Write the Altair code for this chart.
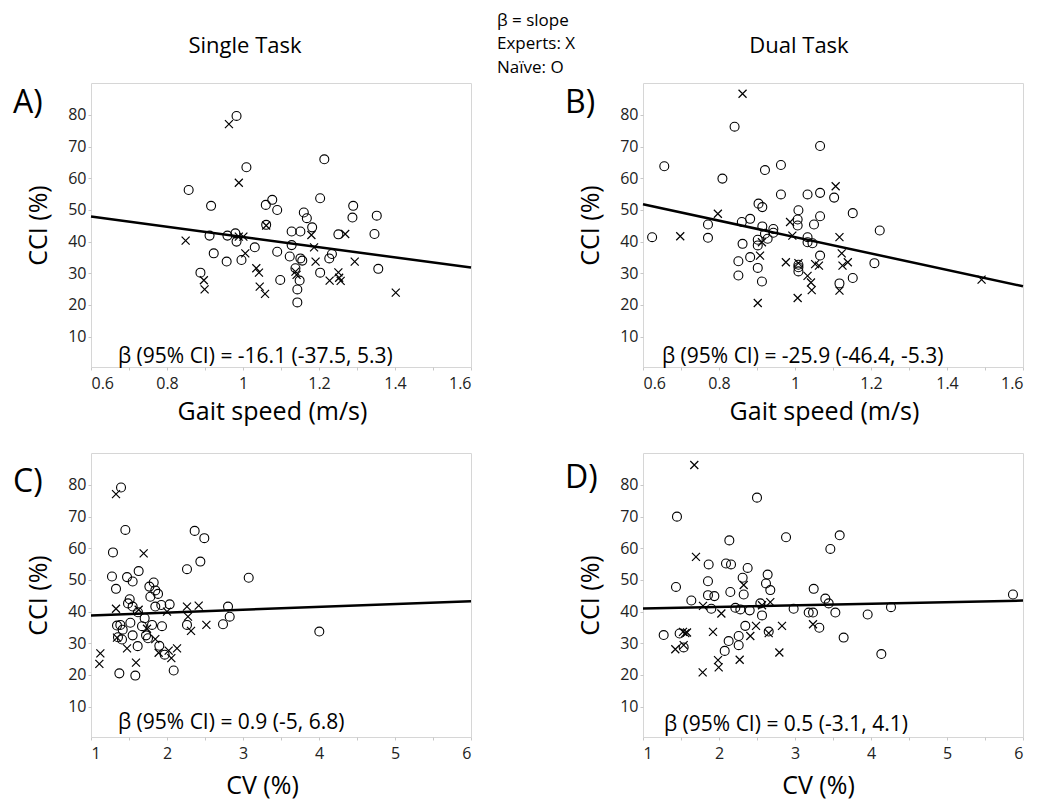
import altair as alt
import pandas as pd

FONT = "Open Sans"
CROSS = "M-1,-1L1,1M1,-1L-1,1"

# ---------------- Panel A: Single task, gait speed ----------------
a_naive_x = [0.857, 0.983, 1.009, 0.916, 0.912, 0.923, 0.888, 0.957, 0.959, 0.980, 0.983, 0.996, 1.031,
             1.060, 1.077, 1.090, 1.061, 1.090, 1.098, 1.123, 1.128, 1.128, 1.138, 1.151, 1.151, 1.156,
             1.149, 1.143, 1.143, 1.160, 1.168, 1.182, 1.203, 1.203, 1.214, 1.227, 1.234, 1.251, 1.290,
             1.288, 1.346, 1.352, 1.356]
a_naive_y = [56.3, 79.7, 63.5, 51.3, 41.9, 36.3, 30.2, 33.7, 41.9, 42.6, 40.0, 34.2, 38.2,
             51.6, 53.2, 50.0, 45.3, 36.8, 27.9, 35.3, 43.2, 38.9, 31.6, 43.2, 34.7, 34.0,
             27.7, 24.9, 20.8, 49.2, 47.4, 44.5, 30.2, 53.7, 66.0, 34.7, 36.1, 42.3, 51.3,
             47.6, 42.4, 48.2, 31.4]
a_exp_x = [0.849, 0.963, 0.989, 0.897, 0.899, 0.989, 1.001, 1.006, 1.035, 1.042, 1.044, 1.058, 1.061,
           1.138, 1.141, 1.180, 1.187, 1.191, 1.228, 1.251, 1.253, 1.257, 1.269, 1.294, 1.402]
a_exp_y = [40.3, 77.1, 58.6, 27.8, 24.9, 41.6, 41.6, 36.3, 31.6, 30.2, 25.8, 23.5, 45.1,
           30.5, 29.5, 42.1, 38.2, 33.7, 27.7, 30.3, 28.6, 27.6, 42.4, 33.7, 23.9]
a_reg_x = [0.6, 1.6]
a_reg_y = [47.9, 31.8]

# ---------------- Panel B: Dual task, gait speed ----------------
b_naive_x = [0.624, 0.656, 0.809, 0.841, 0.771, 0.771, 0.851, 0.851, 0.860, 0.862, 0.882, 0.882, 0.904,
             0.914, 0.902, 0.902, 0.902, 0.913, 0.921, 0.914, 0.921, 0.928, 0.943, 0.943, 0.963, 0.963,
             1.009, 1.007, 1.007, 1.009, 1.009, 1.009, 1.033, 1.033, 1.033, 1.046, 1.050, 1.066, 1.066,
             1.066, 1.066, 1.103, 1.117, 1.152, 1.152, 1.209, 1.223]
b_naive_y = [41.4, 63.8, 59.9, 76.3, 45.4, 41.2, 33.8, 29.3, 46.2, 39.3, 47.2, 35.1, 52.0,
             50.9, 40.6, 38.8, 31.7, 27.4, 62.6, 44.8, 42.5, 40.9, 44.0, 42.8, 64.2, 54.9,
             49.9, 47.0, 45.1, 32.7, 31.9, 30.6, 54.9, 41.4, 39.8, 39.5, 45.4, 70.2, 55.4,
             48.0, 35.6, 53.9, 26.8, 49.0, 28.5, 33.2, 43.5]
b_exp_x = [0.698, 0.797, 0.862, 0.902, 0.908, 0.913, 0.976, 0.987, 0.993, 1.009, 1.007, 1.033, 1.042,
           1.044, 1.053, 1.063, 1.107, 1.117, 1.123, 1.125, 1.139, 1.117, 1.491]
b_exp_y = [41.7, 48.8, 86.7, 20.6, 35.6, 39.8, 33.5, 46.2, 41.9, 33.2, 22.2, 29.2, 27.1,
           24.7, 32.9, 32.4, 57.5, 41.4, 36.3, 32.4, 33.5, 24.5, 28.0]
b_reg_x = [0.6, 1.6]
b_reg_y = [51.8, 25.9]

# ---------------- Panel C: Single task, CV ----------------
c_naive_x = [1.395, 1.452, 1.289, 1.276, 1.329, 1.474, 1.548, 1.627, 1.509, 1.487, 1.548, 1.618, 1.518,
             1.706, 1.342, 1.386, 1.417, 1.355, 1.408, 1.548, 1.614, 1.671, 1.373, 1.583, 1.724, 1.750,
             1.803, 1.768, 1.825, 1.846, 1.882, 1.781, 1.846, 1.925, 1.899, 1.934, 1.969, 2.035, 2.088,
             2.263, 2.364, 2.439, 2.491, 2.263, 2.737, 2.803, 2.825, 3.075, 4.004]
c_naive_y = [79.2, 65.8, 58.7, 51.1, 47.2, 50.9, 49.5, 52.8, 43.9, 42.6, 41.6, 39.8, 36.5,
             37.9, 35.6, 35.8, 34.3, 31.9, 31.2, 32.5, 29.1, 35.4, 20.5, 19.8, 32.5, 31.6,
             35.8, 47.9, 49.2, 46.7, 45.6, 44.7, 41.6, 42.1, 29.2, 35.4, 26.4, 42.3, 21.4,
             53.4, 65.5, 55.8, 63.2, 35.8, 36.0, 41.6, 38.4, 50.7, 33.7]
c_exp_x = [1.329, 1.123, 1.110, 1.329, 1.342, 1.693, 1.627, 1.474, 1.592, 1.737, 1.846, 1.890, 2.000,
           2.022, 2.057, 2.132, 2.263, 2.276, 2.316, 2.417, 2.518]
c_exp_y = [77.1, 26.8, 23.5, 40.9, 31.8, 58.4, 40.6, 28.4, 23.9, 34.6, 31.3, 27.0, 40.0,
           27.7, 25.3, 28.4, 41.6, 38.4, 33.9, 41.9, 35.8]
c_reg_x = [1, 6]
c_reg_y = [38.8, 43.3]

# ---------------- Panel D: Dual task, CV ----------------
d_naive_x = [1.272, 1.434, 1.447, 1.482, 1.535, 1.636, 1.855, 1.864, 1.855, 1.899, 1.939, 2.075, 2.092,
             2.136, 2.158, 2.149, 2.127, 2.215, 2.259, 2.259, 2.281, 2.311, 2.325, 2.346, 2.377, 2.404,
             2.500, 2.544, 2.566, 2.640, 2.618, 2.675, 2.654, 2.882, 2.982, 3.180, 3.237, 3.246, 3.320,
             3.399, 3.443, 3.465, 3.531, 3.588, 3.640, 3.956, 4.136, 4.263, 5.868]
d_naive_y = [32.6, 47.8, 70.0, 33.1, 28.7, 43.5, 49.6, 54.9, 45.2, 40.9, 44.9, 27.6, 55.2,
             62.5, 54.9, 46.2, 30.7, 41.2, 32.3, 29.4, 40.7, 50.7, 45.4, 35.5, 53.8, 40.4,
             76.0, 42.6, 38.8, 51.7, 48.9, 46.8, 33.7, 63.5, 40.9, 39.7, 39.7, 47.2, 34.9,
             44.1, 42.6, 59.8, 39.7, 64.1, 31.8, 39.1, 26.6, 41.4, 45.4]
d_exp_x = [1.675, 1.697, 1.425, 1.526, 1.557, 1.579, 1.535, 1.785, 1.789, 1.921, 2.031, 1.987, 1.996,
           2.272, 2.325, 2.412, 2.487, 2.566, 2.654, 2.675, 2.794, 2.829, 3.237]
d_exp_y = [86.3, 57.3, 28.1, 33.6, 33.2, 33.4, 29.4, 20.8, 41.8, 33.6, 39.4, 24.7, 22.4,
           24.8, 48.4, 32.3, 35.5, 42.0, 33.2, 43.0, 27.1, 35.5, 36.0]
d_reg_x = [1, 6]
d_reg_y = [41.0, 43.5]

beta_texts = ["β (95% CI) = -16.1 (-37.5, 5.3)", "β (95% CI) = -25.9 (-46.4, -5.3)",
              "β (95% CI) = 0.9 (-5, 6.8)", "β (95% CI) = 0.5 (-3.1, 4.1)"]
panel_letters = ["A)", "B)", "C)", "D)"]
column_titles = ["Single Task", "Dual Task"]
legend_lines = ["β = slope", "Experts: X", "Naïve: O"]
y_title = "CCI (%)"
x_titles = ["Gait speed (m/s)", "Gait speed (m/s)", "CV (%)", "CV (%)"]

gait_ticks = [0.6, 0.7, 0.8, 0.9, 1.0, 1.1, 1.2, 1.3, 1.4, 1.5, 1.6]
cv_ticks = [1, 1.5, 2, 2.5, 3, 3.5, 4, 4.5, 5, 5.5, 6]
y_ticks = [10, 20, 30, 40, 50, 60, 70, 80]

W, H = 380, 284
Y_DOMAIN = [0.4, 90.1]


def panel(idx, nx, ny, ex, ey, rx, ry, xdom, xticks, xlabel_expr, xtitle_x, xtitle_y,
          beta_x, beta_y, letter_y, extra=None):
    pts_n = pd.DataFrame({"x": nx, "y": ny})
    pts_e = pd.DataFrame({"x": ex, "y": ey})
    reg = pd.DataFrame({"x": rx, "y": ry})
    xscale = alt.Scale(domain=xdom, nice=False, zero=False)
    yscale = alt.Scale(domain=Y_DOMAIN, nice=False, zero=False)
    xaxis = alt.Axis(values=xticks, labelExpr=xlabel_expr, title=x_titles[idx],
                     titleX=xtitle_x, titleY=xtitle_y, titleAlign="center", titleBaseline="middle",
                     labelPadding=5, labelOverlap=False)
    yaxis = alt.Axis(values=y_ticks, format="d",
                     title=y_title, titleX=-53, titleY=H / 2, titleAlign="center",
                     titleBaseline="middle", titleAngle=270, labelPadding=2, labelOverlap=False)
    base_x = alt.X("x:Q", scale=xscale, axis=xaxis)
    base_y = alt.Y("y:Q", scale=yscale, axis=yaxis)

    circles = alt.Chart(pts_n).mark_point(shape="circle", size=80, filled=False, color="black",
                                           strokeWidth=1.1, opacity=1).encode(x=base_x, y=base_y)
    crosses = alt.Chart(pts_e).mark_point(shape=CROSS, size=64, filled=False, color="black",
                                          strokeWidth=1.2, opacity=1).encode(x=base_x, y=base_y)
    line = alt.Chart(reg).mark_line(color="black", strokeWidth=2.5).encode(x=base_x, y=base_y)
    beta = alt.Chart(pd.DataFrame({"t": [beta_texts[idx]]})).mark_text(
        align="left", baseline="middle", fontSize=21, font=FONT, color="black"
    ).encode(x=alt.value(beta_x), y=alt.value(beta_y), text="t:N")
    letter = alt.Chart(pd.DataFrame({"t": [panel_letters[idx]]})).mark_text(
        align="left", baseline="middle", fontSize=32, font=FONT, color="black"
    ).encode(x=alt.value(-78), y=alt.value(letter_y), text="t:N")
    layers = [line, circles, crosses, beta, letter]
    if extra:
        layers += extra
    return alt.layer(*layers).properties(width=W, height=H)


def text_layer(txt, x, y, size, align="left"):
    return alt.Chart(pd.DataFrame({"t": [txt]})).mark_text(
        align=align, baseline="middle", fontSize=size, font=FONT, color="black"
    ).encode(x=alt.value(x), y=alt.value(y), text="t:N")


gait_expr = "round(datum.value * 10) % 2 == 0 ? format(datum.value, '~g') : ''"
cv_expr = "datum.value % 1 == 0 ? format(datum.value, 'd') : ''"

extra_a = [
    text_layer(column_titles[0], 154, -37, 22, "center"),
    text_layer(legend_lines[0], 406, -62, 17),
    text_layer(legend_lines[1], 406, -39, 17),
    text_layer(legend_lines[2], 406, -15, 17),
]
extra_b = [text_layer(column_titles[1], 156, -37, 22, "center")]

pa = panel(0, a_naive_x, a_naive_y, a_exp_x, a_exp_y, a_reg_x, a_reg_y, [0.6, 1.6], gait_ticks,
           gait_expr, 181, 44, 27, 274, 20, extra_a)
pb = panel(1, b_naive_x, b_naive_y, b_exp_x, b_exp_y, b_reg_x, b_reg_y, [0.6, 1.6], gait_ticks,
           gait_expr, 181, 44, 19, 274, 20, extra_b)
pc = panel(2, c_naive_x, c_naive_y, c_exp_x, c_exp_y, c_reg_x, c_reg_y, [1, 6], cv_ticks,
           cv_expr, 171, 48, 27, 270, 29)
pd_ = panel(3, d_naive_x, d_naive_y, d_exp_x, d_exp_y, d_reg_x, d_reg_y, [1, 6], cv_ticks,
            cv_expr, 175, 48, 21, 272, 25)

chart = alt.concat(pa, pb, pc, pd_, columns=2, spacing={"row": 86, "column": 172},
                   bounds="flush").properties(
    padding={"left": 4, "top": 3, "right": 4, "bottom": 0},
    background="white",
).configure_view(
    stroke="#d6d6d6", strokeWidth=1
).configure_axis(
    domain=False, grid=False, ticks=True, tickColor="#c8c8c8", tickSize=3,
    labelFont=FONT, labelFontSize=16, labelColor="#222222",
    titleFont=FONT, titleFontSize=25, titleFontWeight="normal", titleColor="black",
)

chart.save("out.html", embed_options={"renderer": "svg", "actions": False})
